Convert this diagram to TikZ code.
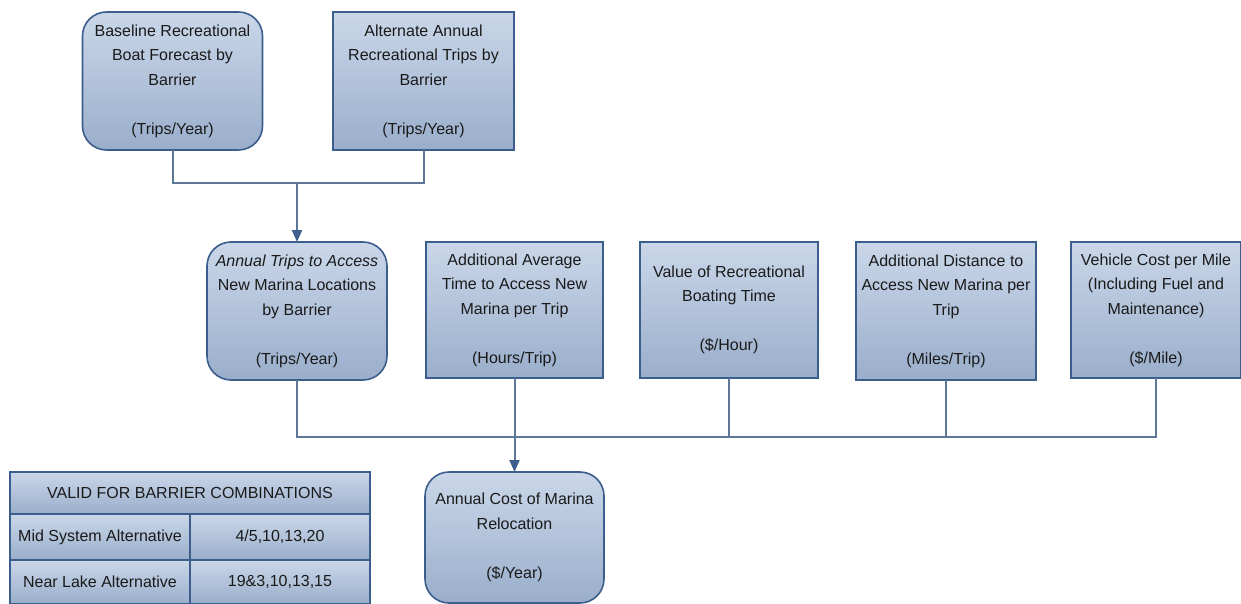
\documentclass[tikz,border=0pt]{standalone}
\usepackage{fontspec}
\setmainfont{Liberation Sans}
\usetikzlibrary{arrows.meta}
\definecolor{boxtop}{HTML}{CAD7E9}
\definecolor{boxbot}{HTML}{9AAECB}
\definecolor{edge}{HTML}{3B5E8C}
\definecolor{wire}{HTML}{5E7797}
\definecolor{txt}{HTML}{1A1A1A}
\tikzset{
 box/.style={draw=edge, line width=1.6pt, top color=boxtop, bottom color=boxbot, align=center,
   font=\fontsize{16}{24.5}\selectfont, text=txt, inner sep=2pt, outer sep=0pt},
 rbox/.style={box, rounded corners=24pt},
 cell/.style={box, line width=1.3pt, font=\fontsize{16}{18}\selectfont},
 wire/.style={draw=wire, line width=2pt},
 arr/.style={wire, -{Triangle[length=12pt,width=10pt,color=edge]}}
}
\begin{document}
\begin{tikzpicture}[x=1pt,y=-1pt]
\useasboundingbox (0,0) rectangle (1241,604);
% top row
\node[rbox, minimum width=180pt, minimum height=138pt] (b1) at (172.5,81)
  {Baseline Recreational\\Boat Forecast by\\Barrier\\[24.5pt](Trips/Year)};
\node[box, minimum width=181pt, minimum height=138pt] (b2) at (423.5,81)
  {Alternate Annual\\Recreational Trips by\\Barrier\\[24.5pt](Trips/Year)};
% middle row
\node[rbox, minimum width=180pt, minimum height=138pt] (b3) at (297,311)
  {\textit{Annual Trips to Access}\\New Marina Locations\\by Barrier\\[24.5pt](Trips/Year)};
\node[box, minimum width=177pt, minimum height=136pt] (b4) at (514.5,310)
  {Additional Average\\Time to Access New\\Marina per Trip\\[24.5pt](Hours/Trip)};
\node[box, minimum width=178pt, minimum height=136pt] (b5) at (729,310)
  {Value of Recreational\\Boating Time\\[24.5pt](\$/Hour)};
\node[box, minimum width=180pt, minimum height=138pt] (b6) at (946,311)
  {Additional Distance to\\Access New Marina per\\Trip\\[24.5pt](Miles/Trip)};
\node[box, minimum width=170pt, minimum height=136pt] (b7) at (1156,310)
  {Vehicle Cost per Mile\\(Including Fuel and\\Maintenance)\\[24.5pt](\$/Mile)};
% result
\node[rbox, minimum width=179pt, minimum height=131pt] (b8) at (514.5,537.5)
  {Annual Cost of Marina\\Relocation\\[24.5pt](\$/Year)};
% table
\node[cell, minimum width=360pt, minimum height=42pt] (th) at (190,493) {VALID FOR BARRIER COMBINATIONS};
\node[cell, minimum width=180pt, minimum height=46pt] (r1a) at (100,537) {Mid System Alternative};
\node[cell, minimum width=180pt, minimum height=46pt] (r1b) at (280,537) {4/5,10,13,20};
\node[cell, minimum width=180pt, minimum height=44pt] (r2a) at (100,582) {Near Lake Alternative};
\node[cell, minimum width=180pt, minimum height=44pt] (r2b) at (280,582) {19\&3,10,13,15};
% connectors
\coordinate (m1) at (297,183);
\coordinate (m2) at (514.5,437);
\draw[wire] (b1.south) |- (m1);
\draw[wire] (b2.south) |- (m1);
\draw[arr] (m1) -- (b3.north);
\draw[wire] (b3.south) |- (m2);
\draw[wire] (b4.south) -- (m2);
\draw[wire] (b5.south) |- (m2);
\draw[wire] (b6.south) |- (m2);
\draw[wire] (b7.south) |- (m2);
\draw[arr] (m2) -- (b8.north);
\end{tikzpicture}
\end{document}
